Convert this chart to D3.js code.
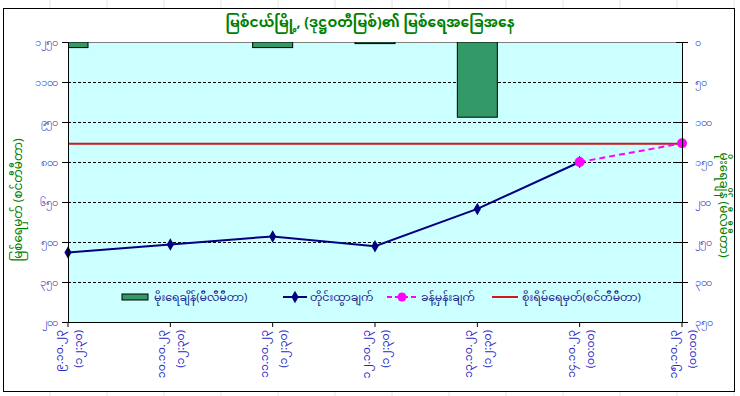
<!DOCTYPE html>
<html>
<head>
<meta charset="utf-8">
<script src="https://cdn.jsdelivr.net/npm/d3@7"></script>
<style>
  body { margin: 0; background: #fff; }
  svg { font-family: "Noto Sans Myanmar", "Padauk", "Myanmar Text", "Noto Sans", sans-serif; }
</style>
</head>
<body>
<svg width="740" height="396"></svg>
<script>
// chart data
const dates = ["၉.၁၀.၂၃", "၁၀.၁၀.၂၃", "၁၁.၁၀.၂၃", "၁၂.၁၀.၂၃", "၁၃.၁၀.၂၃", "၁၄.၁၀.၂၃", "၁၅.၁၀.၂၃"];
const times = ["(၁၂:၃၀)", "(၁၂:၃၀)", "(၁၂:၃၀)", "(၁၂:၃၀)", "(၁၂:၃၀)", "(၀၀:၀၀)", "(၀၀:၀၀)"];
const rainfall = [7, 0, 7, 2, 94, 0, 0];
const observed = [461, 491, 521, 484, 624, 800, null];
const forecast = [null, null, null, null, null, 800, 870];
const danger = [868, 868, 868, 868, 868, 868, 868];
const leftTicks = [200, 350, 500, 650, 800, 950, 1100, 1250];
const rightTicks = [0, 50, 100, 150, 200, 250, 300, 350];

const title = "မြစ်ငယ်မြို့, (ဒုဋ္ဌဝတီမြစ်)၏ မြစ်ရေအခြေအနေ";
const leftTitle = "မြစ်ရေမှတ် (စင်တီမီတာ)";
const rightTitle = "မိုးရေချိန် (မီလီမီတာ)";
const legendNames = ["မိုးရေချိန်(မီလီမီတာ)", "တိုင်းထွာချက်", "ခန့်မှန်းချက်", "စိုးရိမ်ရေမှတ်(စင်တီမီတာ)"];

const mm = n => String(n).replace(/\d/g, d => "၀၁၂၃၄၅၆၇၈၉"[d]);

let svg = d3.select("svg");
const pLeft = 68, pRight = 682, pTop = 42, pBottom = 322;

// faint sheet grid outside chart
const sheetCols = d3.range(50, 740, 57);
svg.selectAll("line.sheet")
  .data(sheetCols)
  .enter()
  .append("line")
  .attr("x1", d => d).attr("x2", d => d)
  .attr("y1", 0).attr("y2", 396)
  .style("stroke", "#e4e4e4");

// chart area
svg.append("rect")
  .attr("x", 3.5).attr("y", 8.5)
  .attr("width", 731).attr("height", 383)
  .attr("fill", "#fff")
  .style("stroke", "#000");

var x = d3.scalePoint().domain(d3.range(dates.length)).range([pLeft, pRight]);
var yL = d3.scaleLinear().domain([200, 1250]).range([pBottom, pTop]);
var yR = d3.scaleLinear().domain([0, 350]).range([pTop, pBottom]);

// plot area
svg.append("rect")
  .attr("x", pLeft).attr("y", pTop)
  .attr("width", pRight - pLeft).attr("height", pBottom - pTop)
  .attr("fill", "#ccffff");

svg.append("clipPath").attr("id", "plot")
  .append("rect")
  .attr("x", pLeft).attr("y", pTop)
  .attr("width", pRight - pLeft).attr("height", pBottom - pTop);

// gridlines
svg.selectAll("line.grid")
  .data(leftTicks.slice(1, -1))
  .enter()
  .append("line")
  .attr("x1", pLeft).attr("x2", pRight)
  .attr("y1", d => Math.round(yL(d)) + 0.5)
  .attr("y2", d => Math.round(yL(d)) + 0.5)
  .style("stroke", "#000")
  .style("stroke-dasharray", "3,2");

svg.append("line")
  .attr("x1", pLeft).attr("x2", pRight)
  .attr("y1", pTop + 0.5).attr("y2", pTop + 0.5)
  .style("stroke", "#808080");

// rainfall bars hanging from the top
var barW = 40;
svg.append("g")
  .attr("clip-path", "url(#plot)")
  .selectAll("rect")
  .data(rainfall)
  .enter()
  .append("rect")
  .attr("x", (d, i) => x(i) - barW / 2)
  .attr("y", yR(0))
  .attr("width", barW)
  .attr("height", d => yR(d) - yR(0))
  .attr("fill", "#339966")
  .style("stroke", d => (d > 0 ? "#000" : "none"))
  .style("stroke-width", 1);

// danger level
var line = d3.line()
  .defined(d => d != null)
  .x((d, i) => x(i))
  .y(d => yL(d));

svg.append("path")
  .datum(danger)
  .attr("d", line)
  .attr("fill", "none")
  .style("stroke", "#d01818")
  .style("stroke-width", 2);

// observed
var obs = observed.map((d, i) => ({ v: d, i: i })).filter(d => d.v != null);
svg.append("path")
  .datum(obs)
  .attr("d", d3.line().x(d => x(d.i)).y(d => yL(d.v)))
  .attr("fill", "none")
  .style("stroke", "#000080")
  .style("stroke-width", 2);

var diamond = d3.symbol().type(d3.symbolDiamond).size(45);
svg.selectAll("path.obs")
  .data(obs)
  .enter()
  .append("path")
  .attr("d", diamond)
  .attr("transform", d => "translate(" + x(d.i) + "," + yL(d.v) + ")")
  .attr("fill", "#000080");

// forecast
var fc = forecast.map((d, i) => ({ v: d, i: i })).filter(d => d.v != null);
svg.append("path")
  .datum(fc)
  .attr("d", d3.line().x(d => x(d.i)).y(d => yL(d.v)))
  .attr("fill", "none")
  .style("stroke", "#ff00ff")
  .style("stroke-width", 2)
  .style("stroke-dasharray", "6,4");

svg.selectAll("circle.fc")
  .data(fc)
  .enter()
  .append("circle")
  .attr("cx", d => x(d.i))
  .attr("cy", d => yL(d.v))
  .attr("r", 5)
  .attr("fill", "#ff00ff");

// axes
var tickColor = "#2a2ac8";
var axL = svg.append("g")
  .attr("transform", "translate(" + pLeft + ",0)")
  .call(d3.axisLeft(yL).tickValues(leftTicks).tickFormat(mm).tickSize(6).tickPadding(5));
var axR = svg.append("g")
  .attr("transform", "translate(" + pRight + ",0)")
  .call(d3.axisRight(yR).tickValues(rightTicks).tickFormat(mm).tickSize(6).tickPadding(7));
axR.selectAll(".tick line").attr("x1", -6);

svg.append("line")
  .attr("x1", pLeft).attr("x2", pRight)
  .attr("y1", pBottom + 0.5).attr("y2", pBottom + 0.5)
  .style("stroke", "#000");

svg.selectAll("line.xtick")
  .data(d3.range(dates.length))
  .enter()
  .append("line")
  .attr("x1", d => x(d)).attr("x2", d => x(d))
  .attr("y1", pBottom).attr("y2", pBottom + 5)
  .style("stroke", "#000");

[axL, axR].forEach(function (ax) {
  ax.selectAll("text").style("fill", tickColor).style("font-size", "11px");
  ax.select(".domain").style("stroke", "#000");
  ax.selectAll(".tick line").style("stroke", "#000");
});

// category labels
var lab = svg.selectAll("text.xlab")
  .data(d3.range(dates.length))
  .enter()
  .append("text")
  .attr("transform", d => "translate(" + x(d) + ",330) rotate(-90)")
  .attr("text-anchor", "end")
  .style("fill", tickColor)
  .style("font-size", "11px");
lab.append("tspan").attr("x", 0).attr("y", -5).text(d => dates[d]);
lab.append("tspan").attr("x", 0).attr("y", 14).text(d => times[d]);

// titles
svg.append("text")
  .attr("x", 370).attr("y", 27)
  .attr("text-anchor", "middle")
  .style("fill", "#008000")
  .style("font-size", "14px")
  .style("font-weight", "bold")
  .text(title);

svg.append("text")
  .attr("transform", "translate(22,200) rotate(-90)")
  .attr("text-anchor", "middle")
  .style("fill", "#008000")
  .style("font-size", "12px")
  .text(leftTitle);

svg.append("text")
  .attr("transform", "translate(720,205) rotate(90)")
  .attr("text-anchor", "middle")
  .style("fill", "#008000")
  .style("font-size", "12px")
  .text(rightTitle);

// legend
var legendX = [122, 283, 387, 492];
var ly = 297;
var leg = svg.append("g").style("font-size", "11px");
leg.append("rect")
  .attr("x", legendX[0]).attr("y", ly - 3)
  .attr("width", 26).attr("height", 6)
  .attr("fill", "#339966").style("stroke", "#000");
leg.append("line")
  .attr("x1", legendX[1]).attr("x2", legendX[1] + 24)
  .attr("y1", ly).attr("y2", ly)
  .style("stroke", "#000080").style("stroke-width", 2);
leg.append("path").attr("d", diamond)
  .attr("transform", "translate(" + (legendX[1] + 12) + "," + ly + ")")
  .attr("fill", "#000080");
leg.append("line")
  .attr("x1", legendX[2]).attr("x2", legendX[2] + 30)
  .attr("y1", ly).attr("y2", ly)
  .style("stroke", "#ff00ff").style("stroke-width", 2)
  .style("stroke-dasharray", "5,3");
leg.append("circle")
  .attr("cx", legendX[2] + 15).attr("cy", ly).attr("r", 4.5)
  .attr("fill", "#ff00ff");
leg.append("line")
  .attr("x1", legendX[3]).attr("x2", legendX[3] + 26)
  .attr("y1", ly).attr("y2", ly)
  .style("stroke", "#d01818").style("stroke-width", 2);

var textOff = [32, 27, 34, 30];
leg.selectAll("text")
  .data(legendNames)
  .enter()
  .append("text")
  .attr("x", (d, i) => legendX[i] + textOff[i])
  .attr("y", ly + 4)
  .style("fill", "#1a1a8c")
  .text(d => d);
</script>
</body>
</html>
